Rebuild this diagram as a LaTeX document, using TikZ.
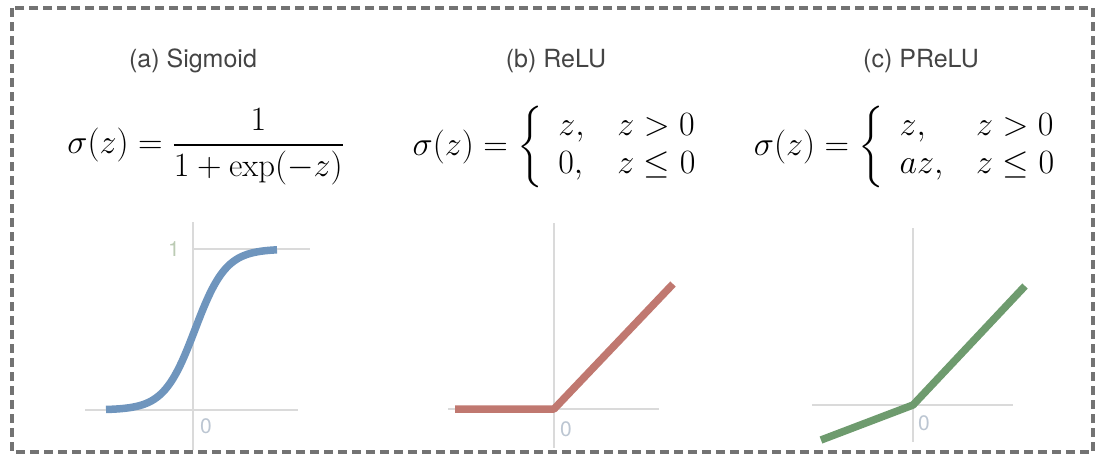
\documentclass[tikz,border=0pt]{standalone}
\usepackage{amsmath}
\usepackage{fontspec}
\newfontfamily\labelfont{TeX Gyre Heros}
\definecolor{bordergray}{HTML}{737373}
\definecolor{gridgray}{HTML}{DADADA}
\definecolor{sigblue}{HTML}{6F95BD}
\definecolor{relured}{HTML}{C07870}
\definecolor{preluegreen}{HTML}{6E9B6E}
\definecolor{textgray}{HTML}{444444}
\definecolor{onecol}{HTML}{BCCBB4}
\definecolor{zerocol}{HTML}{BCC6D2}
\newcommand{\pwcases}[1]{\left\{\def\arraystretch{0.95}\begin{array}{@{\ \,}l@{\quad}l@{}}#1\end{array}\right.}
\tikzset{
  title/.style={font=\labelfont\fontsize{25}{28}\selectfont, text=textgray, inner sep=0pt},
  formula/.style={font=\fontsize{20}{24}\selectfont, inner sep=0pt, scale=1.64},
  gridline/.style={draw=gridgray, line width=1.2pt},
  curve/.style={line width=7.5pt, line join=round},
  ticklab/.style={font=\labelfont\fontsize{21}{24}\selectfont, inner sep=0pt},
}
\begin{document}
\begin{tikzpicture}[x=1pt,y=-1pt]
\useasboundingbox (0,0) rectangle (1105,461);
\draw[bordergray, line width=3.5pt, dash pattern=on 9pt off 5pt] (12,8) rectangle (1093,452);

% titles
\node[title] (ta) at (193,61) {(a) Sigmoid};
\node[title] (tb) at (556,61) {(b) ReLU};
\node[title] (tc) at (921,61) {(c) PReLU};

% formulas
\node[formula] (fa) at (206,147) {$\displaystyle \sigma(z)=\frac{1}{1+\exp(-z)}$};
\node[formula] (fb) at (555,147) {$\displaystyle \sigma(z)=\pwcases{z, & z>0\\ 0, & z\le 0}$};
\node[formula] (fc) at (905,147) {$\displaystyle \sigma(z)=\pwcases{z, & z>0\\ az, & z\le 0}$};

% (a) sigmoid axes
\draw[gridline] (85,410) -- (298,410);
\draw[gridline] (193,222) -- (193,450);
\draw[gridline] (193,249) -- (310,249);
\node[ticklab, text=onecol] (one) at (174,249) {1};
\node[ticklab, text=zerocol] (zeroa) at (206,426) {0};
\draw[curve, sigblue] plot[domain=106:277, samples=120] (\x, {410-161/(1+exp(-(\x-195)/15.5))});

% (b) ReLU
\draw[gridline] (448,409) -- (659,409);
\draw[gridline] (554,223) -- (554,448);
\node[ticklab, text=zerocol] (zerob) at (566,429) {0};
\coordinate (b1) at (455,409);
\coordinate (b2) at (554,409);
\coordinate (b3) at (673,284);
\draw[curve, relured] (b1) -- (b2) -- (b3);

% (c) PReLU
\draw[gridline] (812,405) -- (1013,405);
\draw[gridline] (913,228) -- (913,442);
\node[ticklab, text=zerocol] (zeroc) at (924,423) {0};
\coordinate (c1) at (821,440);
\coordinate (c2) at (913,405);
\coordinate (c3) at (1025,286);
\draw[curve, preluegreen] (c1) -- (c2) -- (c3);
\end{tikzpicture}
\end{document}
